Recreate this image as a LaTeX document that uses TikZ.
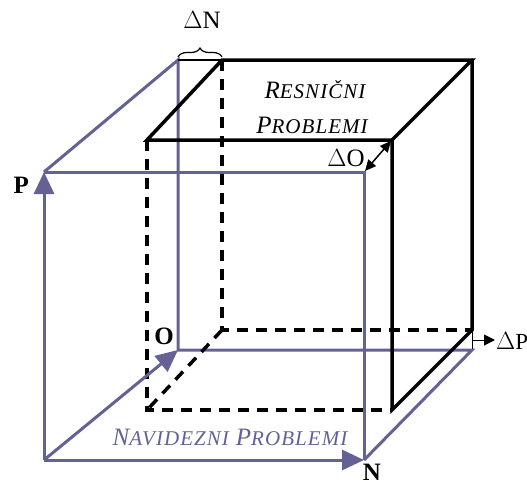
\documentclass[tikz,border=0pt]{standalone}
\usepackage{fontspec}
\setmainfont{Liberation Serif}
\usetikzlibrary{arrows.meta,decorations.pathreplacing}
\definecolor{virt}{RGB}{100,98,148}
\newcommand{\mysc}[2]{{\fontsize{25}{25}\selectfont #1}{\fontsize{21}{21}\selectfont\addfontfeature{LetterSpace=5} #2}}
\begin{document}
\begin{tikzpicture}[x=1pt,y=-1pt,
  vline/.style={virt,line width=3pt},
  rline/.style={black,line width=3.5pt,line cap=round},
  rdash/.style={black,line width=3.5pt,dash pattern=on 11pt off 8pt},
  bigtip/.style={-{Triangle[length=22pt,width=20pt]}},
  lab/.style={font=\fontsize{25}{25}\selectfont\bfseries,inner sep=0pt},
  dlab/.style={font=\fontsize{25}{25}\selectfont,inner sep=0pt}]
\useasboundingbox (0,0) rectangle (527,485);
% purple cube coordinates
\coordinate (A) at (44,460);
\coordinate (B) at (364,460);
\coordinate (C) at (364,172);
\coordinate (D) at (44,172);
\coordinate (E) at (178,350);
\coordinate (F) at (472,350);
\coordinate (G) at (178,60);
% black cube coordinates
\coordinate (a) at (147,410);
\coordinate (b) at (392,410);
\coordinate (c) at (392,140);
\coordinate (d) at (147,140);
\coordinate (e) at (222,330);
\coordinate (f) at (472,330);
\coordinate (g) at (472,60);
\coordinate (h) at (222,60);
% purple cube
\draw[vline] (D) -- (C) -- (B);
\draw[vline] (D) -- (G) -- (E) -- (F) -- (B);
\draw[black,line width=1.2pt] (G) -- (h);
% black cube dashed
\draw[rdash] (d) -- (a) -- (b);
\draw[rdash] (h) -- (e) -- (f);
\draw[rdash] (e) -- (a);
% black cube solid
\draw[rline] (h) -- (g) -- (c) -- (d) -- cycle;
\draw[rline] (g) -- (f) -- (b) -- (c);
% axes arrows
\draw[vline,bigtip] (A) -- (D);
\draw[vline,bigtip] (A) -- (E);
\draw[vline,bigtip] (A) -- (B);
% labels
\node[lab,anchor=east] (P) at (29,185) {P};
\node[lab] (O) at (164,336) {O};
\node[lab] (N) at (372,472) {N};
% Delta N
\draw[decorate,decoration={brace,amplitude=9pt},line width=1.2pt] (178,57) -- (222,57);
\node[dlab] (dN) at (202,20) {$\Delta$N};
% Delta O
\coordinate (o1) at (391,141);
\coordinate (o2) at (365,171);
\draw[line width=1.5pt,{Triangle[length=11pt,width=10pt]}-{Triangle[length=11pt,width=10pt]}] (o1) -- (o2);
\node[dlab] (dO) at (346,158) {$\Delta$O};
% Delta P
\coordinate (p0) at (472,340);
\coordinate (p1) at (495,340);
\draw[line width=1pt] (472,331) -- (472,349);
\draw[line width=1pt,-{Triangle[length=11pt,width=11pt]}] (p0) -- (p1);
\node[font=\fontsize{23}{23}\selectfont,inner sep=0pt,anchor=west] (dP) at (496,341) {$\Delta$P};
% texts
\node[inner sep=0pt,font=\itshape] (r1) at (315,90) {\mysc{R}{ESNIČNI}};
\node[inner sep=0pt,font=\itshape] (r2) at (312,125) {\mysc{P}{ROBLEMI}};
\node[inner sep=0pt,font=\itshape,text=virt] (nv) at (230,437) {\mysc{N}{AVIDEZNI}\hspace{7pt}\mysc{P}{ROBLEMI}};
\end{tikzpicture}
\end{document}
